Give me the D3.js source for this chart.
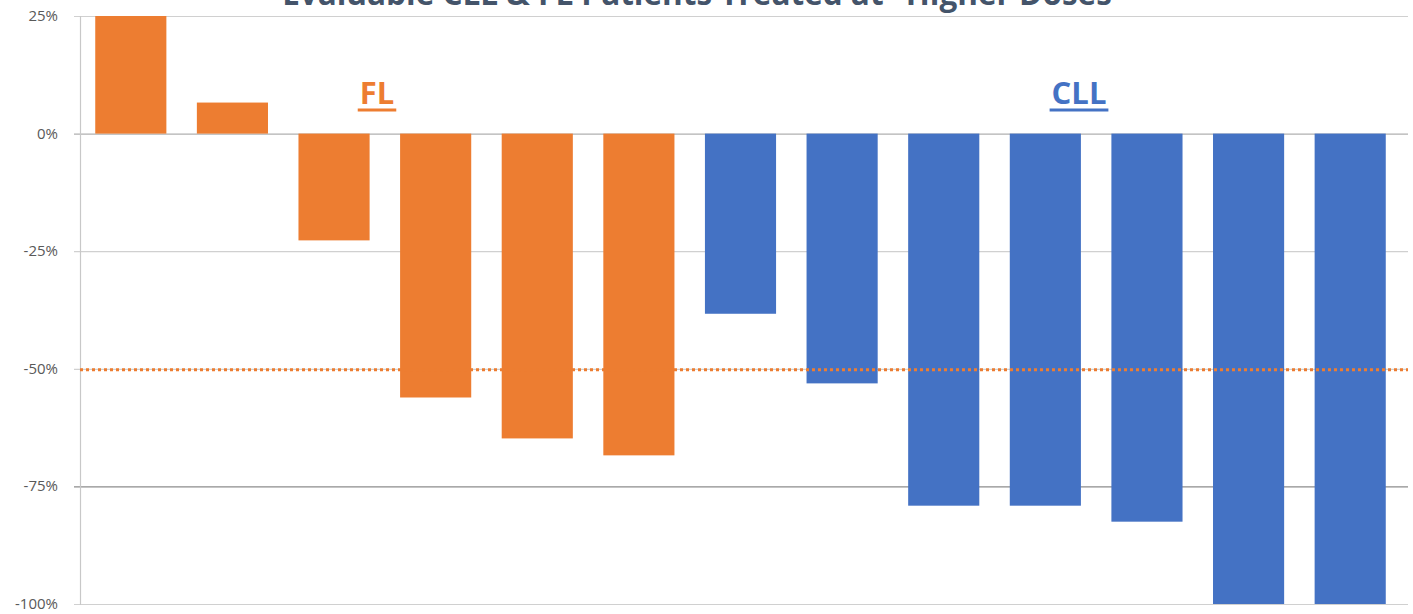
<!DOCTYPE html>
<html>
<head>
<meta charset="utf-8">
<script src="https://cdn.jsdelivr.net/npm/d3@7"></script>
<style>
body { margin: 0; background: #fff; }
text { font-family: "Open Sans", "Liberation Sans", sans-serif; }
</style>
</head>
<body>
<script>
// patients, in the order shown
var patients = ["P1","P2","P3","P4","P5","P6","P7","P8","P9","P10","P11","P12","P13"];
var groups = ["FL","FL","FL","FL","FL","FL","CLL","CLL","CLL","CLL","CLL","CLL","CLL"];
var changes = [25, 6.6, -22.7, -56.1, -64.8, -68.4, -38.3, -53.1, -79.1, -79.1, -82.5, -100, -100];
var yTicks = [25, 0, -25, -50, -75, -100];
var threshold = -50;
var title = "Evaluable CLL & FL Patients Treated at \u201CHigher Doses\u201D";

var w = 1413, h = 614;
// note: "top" is taken by window.top, so use plot* names
var plotLeft = 80, plotRight = 1408, plotTop = 16, plotBottom = 604;

var svg = d3.select("body").append("svg")
    .attr("width", w)
    .attr("height", h);

var x = d3.scaleBand()
    .domain(patients)
    .range([plotLeft, 1401])
    .paddingInner(0.3)
    .paddingOuter(0.15);

var y = d3.scaleLinear()
    .domain([-100, 25])
    .range([plotBottom, plotTop]);

var color = d3.scaleOrdinal()
    .domain(["FL", "CLL"])
    .range(["#ed7d31", "#4472c4"]);

// gridlines
svg.selectAll("line.grid")
    .data(yTicks).enter()
    .append("line")
    .attr("class", "grid")
    .attr("x1", plotLeft - 6).attr("x2", plotRight)
    .attr("y1", function (d) { return y(d) + 0.5; })
    .attr("y2", function (d) { return y(d) + 0.5; })
    .attr("stroke", function (d) { return d == -75 ? "#8c8c8c" : (d == 0 ? "#b0b0b0" : "#d0d0d0"); })
    .attr("stroke-width", 1.2);

// y axis line
svg.append("line")
    .attr("x1", plotLeft + 0.5).attr("x2", plotLeft + 0.5)
    .attr("y1", plotTop).attr("y2", plotBottom + 1)
    .attr("stroke", "#c8c8c8")
    .attr("stroke-width", 1.2);

// tick labels
svg.selectAll("text.tick")
    .data(yTicks).enter()
    .append("text")
    .attr("class", "tick")
    .attr("x", 58)
    .attr("y", function (d) { return y(d) + 5; })
    .attr("text-anchor", "end")
    .attr("font-size", 15)
    .attr("fill", "#595959")
    .text(function (d) { return d + "%"; });

// bars
svg.selectAll("rect.bar")
    .data(changes).enter()
    .append("rect")
    .attr("class", "bar")
    .attr("x", function (d, i) { return x(patients[i]); })
    .attr("width", x.bandwidth())
    .attr("y", function (d) { return y(Math.max(0, d)); })
    .attr("height", function (d) { return Math.abs(y(d) - y(0)); })
    .attr("fill", function (d, i) { return color(groups[i]); });

// -50% line
svg.append("line")
    .attr("x1", plotLeft).attr("x2", plotRight)
    .attr("y1", y(threshold) + 1).attr("y2", y(threshold) + 1)
    .attr("stroke", "#ed7d31")
    .attr("stroke-width", 3)
    .attr("stroke-dasharray", "3,3");

// group labels
var labels = [{name: "FL", cx: 377}, {name: "CLL", cx: 1079}];
labels.forEach(function (l) {
    var t = svg.append("text")
        .attr("x", l.cx)
        .attr("y", 104)
        .attr("text-anchor", "middle")
        .attr("font-size", 31)
        .attr("font-weight", "bold")
        .attr("fill", color(l.name))
        .text(l.name);
    var bw = t.node().getBBox().width;
    svg.append("line")
        .attr("x1", l.cx - bw / 2 - 2).attr("x2", l.cx + bw / 2 + 2)
        .attr("y1", 110).attr("y2", 110)
        .attr("stroke", color(l.name))
        .attr("stroke-width", 3);
});

// title (clipped at top, as in the source image)
svg.append("text")
    .attr("x", 704)
    .attr("y", 5)
    .attr("text-anchor", "middle")
    .attr("font-size", 31.5)
    .attr("font-weight", "bold")
    .attr("fill", "#44546a")
    .text(title);
</script>
</body>
</html>
